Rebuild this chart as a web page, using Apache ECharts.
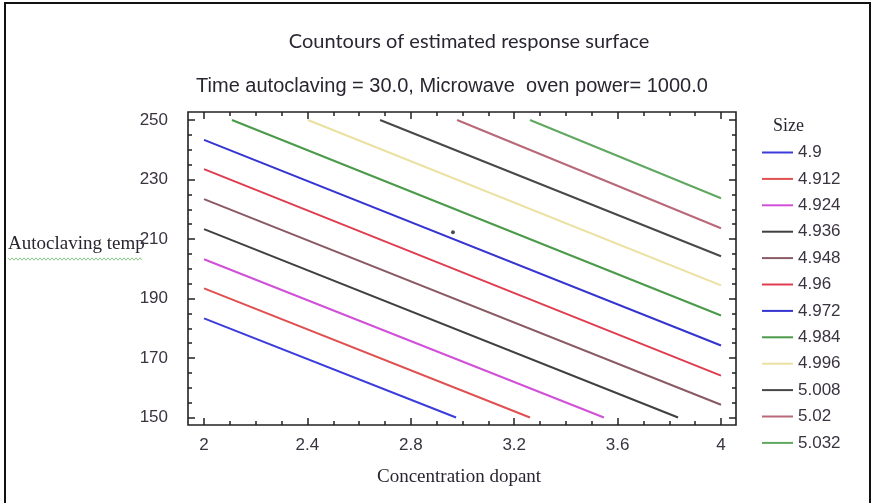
<!DOCTYPE html>
<html>
<head>
<meta charset="utf-8">
<script src="https://cdn.jsdelivr.net/npm/echarts@6/dist/echarts.min.js"></script>
<style>
html,body{margin:0;padding:0;background:#fff;}
#chart{width:874px;height:503px;}
</style>
</head>
<body>
<div id="chart"></div>
<script>
// ---- data ----
const levels = ['4.9','4.912','4.924','4.936','4.948','4.96','4.972','4.984','4.996','5.008','5.02','5.032'];
const startX = [2, 2, 2, 2, 2, 2, 2, 2.108, 2.402, 2.681, 2.979, 3.261];
const startY = [183.3, 193.4, 203.2, 213.3, 223.4, 233.5, 243.3, 250, 250, 250, 250, 250];
const endX   = [2.975, 3.261, 3.547, 3.834, 4, 4, 4, 4, 4, 4, 4, 4];
const endY   = [150, 150, 150, 150, 154.3, 164.1, 174.2, 184.3, 194.4, 204.2, 213.6, 223.7];
const optimumPoint = [2.963, 212.3];
const xMajor = [2, 2.4, 2.8, 3.2, 3.6, 4];
const xMinor = [2.1,2.2,2.3,2.5,2.6,2.7,2.9,3.0,3.1,3.3,3.4,3.5,3.7,3.8,3.9];
const yMajor = [150, 170, 190, 210, 230, 250];
const yMinor = [155,160,165,175,180,185,195,200,205,215,220,225,235,240,245];

// ---- styles ----
const colors = ['#3c3cdc','#e05050','#d050d8','#404040','#8a5a64','#e03c50',
                '#3434d0','#4a9a4a','#ece0a0','#484848','#b86878','#60a860'];
const XMIN = 1.938, XMAX = 4.058, YMIN = 147.48, YMAX = 252.69;
const tickFont = {fontFamily:'"Liberation Sans Narrow","Arial Narrow","Liberation Sans",sans-serif', fontSize:17, color:'#3a3340'};

function mkAxis(isX, pos, vals, len, showLabel) {
  return {
    type:'value', position:pos, min: isX?XMIN:YMIN, max: isX?XMAX:YMAX,
    axisLine:{show:false},
    splitLine:{show:false},
    axisTick:{show:true, inside:true, length:len, customValues:vals, lineStyle:{color:'#222', width:1.5}},
    axisLabel:showLabel ? Object.assign({show:true, customValues:vals, margin: isX?12:20}, tickFont) : {show:false}
  };
}

const series = levels.map((lv, i) => ({
  name: lv, type:'line', xAxisIndex:0, yAxisIndex:0,
  symbol:'none', silent:true,
  lineStyle:{color:colors[i], width:2},
  itemStyle:{color:colors[i]},
  data:[[startX[i], startY[i]], [endX[i], endY[i]]]
}));
series.push({
  name:'optimum', type:'scatter', xAxisIndex:0, yAxisIndex:0,
  symbolSize:4, itemStyle:{color:'#222'}, data:[optimumPoint]
});

// wavy underline decoration under the y axis name
const wavy = [];
for (let x = 8; x <= 143; x += 2) wavy.push([x, 259 + ((x/2)%2 ? 1.2 : -1.2)]);

const chart = echarts.init(document.getElementById('chart'), null, {renderer:'canvas'});
chart.setOption({
  animation:false,
  backgroundColor:'#fff',
  title:[
    {text:'Countours of estimated response surface', left:464, top:27, textAlign:'center',
     textStyle:{fontFamily:'Lato, "Open Sans", sans-serif', fontWeight:'normal', fontSize:20, color:'#2a2530'}},
    {text:'Time autoclaving = 30.0, Microwave  oven power= 1000.0', left:447, top:71, textAlign:'center',
     textStyle:{fontFamily:'"Liberation Sans", Arial, sans-serif', fontWeight:'normal', fontSize:20, color:'#2a2530'}}
  ],
  grid:{left:188, top:112, width:548, height:313, show:true, borderColor:'#222', borderWidth:1.6, containLabel:false},
  xAxis:[
    mkAxis(true,'bottom',xMajor,7,true),
    mkAxis(true,'bottom',xMinor,4,false),
    mkAxis(true,'top',xMajor,7,false),
    mkAxis(true,'top',xMinor,4,false)
  ],
  yAxis:[
    mkAxis(false,'left',yMajor,7,true),
    mkAxis(false,'left',yMinor,4,false),
    mkAxis(false,'right',yMajor,7,false),
    mkAxis(false,'right',yMinor,4,false)
  ],
  legend:{
    orient:'vertical', left:757, top:139, data:levels,
    icon:'rect', itemWidth:31, itemHeight:2, itemGap:9.4,
    selectedMode:false,
    textStyle:Object.assign({}, tickFont, {fontSize:17, lineHeight:17})
  },
  graphic:[
    {type:'rect', shape:{x:5, y:3, width:865, height:520}, style:{fill:'none', stroke:'#111', lineWidth:2}, silent:true},
    {type:'text', left:8, top:235, style:{text:'Autoclaving temp', font:'19px "Liberation Serif", "Times New Roman", serif', fill:'#2a2530'}},
    {type:'polyline', shape:{points:wavy}, style:{stroke:'#8cc88c', lineWidth:1, fill:'none'}, silent:true},
    {type:'text', left:377, top:468, style:{text:'Concentration dopant', font:'19px "Liberation Serif", "Times New Roman", serif', fill:'#2a2530'}},
    {type:'text', left:773, top:117, style:{text:'Size', font:'18px "Liberation Serif", "Times New Roman", serif', fill:'#2a2530'}}
  ],
  series:series
});
</script>
</body>
</html>
